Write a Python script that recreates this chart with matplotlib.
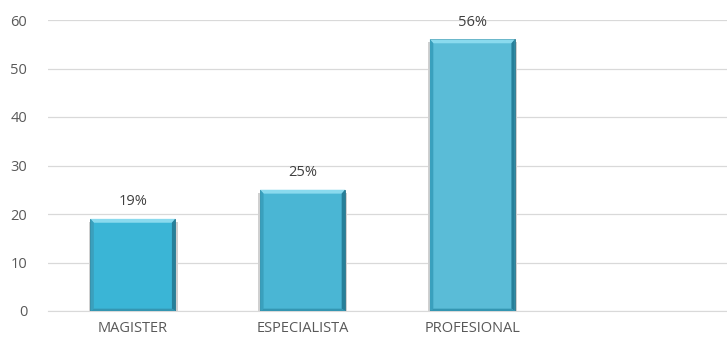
import numpy as np
import matplotlib.pyplot as plt
from matplotlib.patches import Polygon

categories = ['MAGISTER', 'ESPECIALISTA', 'PROFESIONAL']
values = [19, 25, 56]
labels = ['19%', '25%', '56%']
face_colors = ['#3AB5D6', '#4AB6D4', '#5ABCD7']

plt.rcParams['font.family'] = ['Open Sans', 'DejaVu Sans']

fig = plt.figure(figsize=(7.27, 3.49), dpi=100)
ax = fig.add_axes([48 / 727, 38 / 349, 679 / 727, 291 / 349])

x = np.arange(len(categories))
width = 0.5
bars = ax.bar(x, values, width=width, color=face_colors, edgecolor='#2A7489',
              linewidth=0.6, zorder=3)

# bevelled edges on each bar
bx, by = 0.02, 0.8
for rect, fc in zip(bars, face_colors):
    x0, w, h = rect.get_x(), rect.get_width(), rect.get_height()
    x1 = x0 + w
    top = Polygon([(x0, h), (x1, h), (x1 - bx, h - by), (x0 + bx, h - by)],
                  closed=True, color='#8ADAEE', lw=0, zorder=4)
    right = Polygon([(x1, h), (x1, 0), (x1 - bx, by * 0.6), (x1 - bx, h - by)],
                    closed=True, color='#267F99', lw=0, zorder=4)
    left = Polygon([(x0, h), (x0 + bx, h - by), (x0 + bx, by * 0.6), (x0, 0)],
                   closed=True, color='#3AA0BD', lw=0, zorder=4)
    bottom = Polygon([(x0, 0), (x1, 0), (x1 - bx, by * 0.6), (x0 + bx, by * 0.6)],
                     closed=True, color='#3496B2', lw=0, zorder=4)
    for p in (top, right, left, bottom):
        ax.add_patch(p)
    # soft shadow around the bar
    ax.add_patch(Polygon([(x0 - 0.01, h - 0.6), (x1 + 0.014, h - 0.6),
                          (x1 + 0.014, 0), (x0 - 0.01, 0)],
                         closed=True, color='#D0D0D0', lw=0, zorder=2))

for xi, v, lab in zip(x, values, labels):
    ax.text(xi, v + 2.0, lab, ha='center', va='bottom', fontsize=10.5, color='#404040')

ax.set_xlim(-0.5, 3.5)
ax.set_ylim(0, 60)
ax.set_xticks(x)
ax.set_xticklabels(categories, fontsize=10.5, color='#595959')
ax.set_yticks(range(0, 61, 10))
ax.tick_params(axis='y', labelsize=10.5, colors='#595959', length=0, pad=15)
ax.tick_params(axis='x', length=0, pad=7)
ax.grid(axis='y', color='#D9D9D9', linewidth=0.9, zorder=0)
for s in ['top', 'right', 'left']:
    ax.spines[s].set_visible(False)
ax.spines['bottom'].set_color('#D9D9D9')

fig.savefig('out.png', dpi=100)
